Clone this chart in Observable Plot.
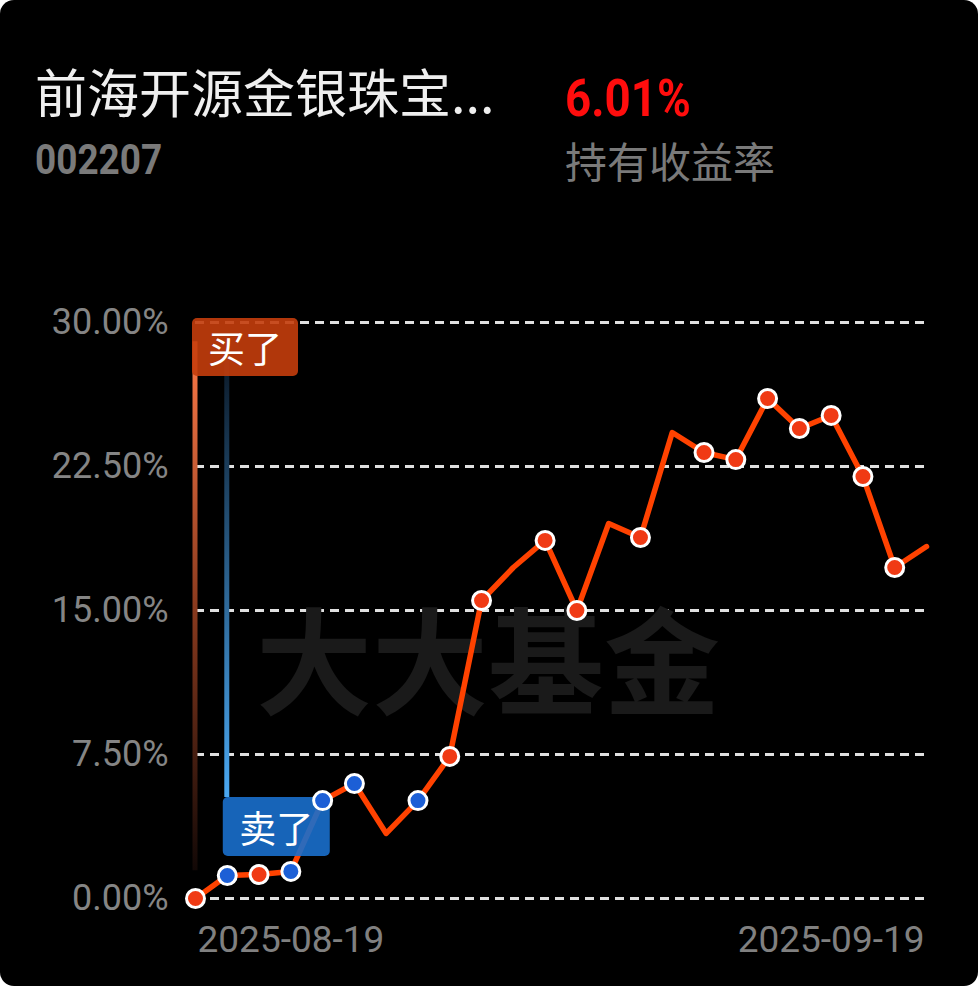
<!DOCTYPE html>
<html>
<head>
<meta charset="utf-8">
<script src="https://cdn.jsdelivr.net/npm/d3@7"></script>
<script src="https://cdn.jsdelivr.net/npm/@observablehq/plot@0.6"></script>
<style>
html,body{margin:0;padding:0;background:#ffffff;}
#card{position:relative;width:978px;height:986px;background:#000;border-radius:14px;overflow:hidden;}
.h{position:absolute;line-height:1;white-space:nowrap;}
#title{left:35px;top:65px;font-family:"Noto Sans CJK SC";font-size:52px;color:#efefef;}
#code{left:35px;top:139px;font-family:Roboto;font-weight:bold;font-size:42px;color:#7a7a7a;transform:scaleX(0.88);transform-origin:left top;}
#rate{left:565px;top:73px;font-family:Roboto;font-weight:bold;font-size:52px;color:#ff0d0d;transform:scaleX(0.88);transform-origin:left top;}
#rateLabel{left:565px;top:139px;font-family:"Noto Sans CJK SC";font-size:42px;color:#7a7a7a;}
#chart{position:absolute;left:0;top:280px;}
</style>
</head>
<body>
<div id="card">
  <div class="h" id="title"></div>
  <div class="h" id="code"></div>
  <div class="h" id="rate"></div>
  <div class="h" id="rateLabel"></div>
  <div id="chart"></div>
</div>
<script>
// ---- data ----
const fundName = "前海开源金银珠宝...";
const fundCode = "002207";
const holdingReturn = "6.01%";
const holdingReturnLabel = "持有收益率";

const dates = ["2025-08-19","2025-08-20","2025-08-21","2025-08-22","2025-08-25","2025-08-26","2025-08-27","2025-08-28","2025-08-29",
  "2025-09-01","2025-09-02","2025-09-03","2025-09-04","2025-09-05","2025-09-08","2025-09-09","2025-09-10","2025-09-11","2025-09-12",
  "2025-09-15","2025-09-16","2025-09-17","2025-09-18","2025-09-19"];
const returns = [0.00,1.20,1.25,1.41,5.10,5.99,3.39,5.10,7.40,15.52,17.24,18.65,15.00,19.53,18.80,24.27,23.23,22.86,26.04,24.48,25.16,21.98,17.24,18.33];
const trades = ["buy","sell","buy","sell","sell","sell",null,"sell","buy","buy",null,"buy","buy",null,"buy",null,"buy","buy","buy","buy","buy","buy","buy",null];
const yTicks = [0,7.5,15,22.5,30];
const xTickLabels = ["2025-08-19","2025-09-19"];
const watermark = "大大基金";
const markers = [
  {type:"buy", label:"买了", index:0, level:30, lineFrom:1.45, lineTo:29},
  {type:"sell", label:"卖了", index:1, level:5.26, lineFrom:5.26, lineTo:29.3}
];

document.getElementById("title").textContent = fundName;
document.getElementById("code").textContent = fundCode;
document.getElementById("rate").textContent = holdingReturn;
document.getElementById("rateLabel").textContent = holdingReturnLabel;

const data = dates.map((d,i)=>({i, date:d, value:returns[i], trade:trades[i]}));

function annotations(index, scales) {
  const x = scales.x, y = scales.y;
  const g = d3.create("svg:g");
  const defs = g.append("defs");
  markers.forEach((m, k) => {
    const px = x(m.index);
    const id = "grad" + k;
    const y1 = y(m.lineTo), y2 = y(m.lineFrom);
    const grad = defs.append("linearGradient").attr("id", id)
      .attr("gradientUnits","userSpaceOnUse")
      .attr("x1", px).attr("x2", px).attr("y1", y1).attr("y2", y2);
    if (m.type === "buy") {
      grad.append("stop").attr("offset","0").attr("stop-color","#ff7a48");
      grad.append("stop").attr("offset","0.5").attr("stop-color","#8a3a1e");
      grad.append("stop").attr("offset","1").attr("stop-color","#120806");
    } else {
      grad.append("stop").attr("offset","0").attr("stop-color","#08121e");
      grad.append("stop").attr("offset","1").attr("stop-color","#4aa8f2");
    }
    g.append("line").attr("x1",px).attr("x2",px).attr("y1",y1).attr("y2",y2)
      .attr("stroke",`url(#${id})`).attr("stroke-width",5);
  });
  markers.forEach((m) => {
    const px = x(m.index);
    const bx = m.type === "buy" ? px - 3 : px - 4;
    const by = m.type === "buy" ? y(m.level) - 4 : y(m.level);
    const bw = m.type === "buy" ? 106 : 107;
    const bh = m.type === "buy" ? 58 : 59;
    g.append("rect").attr("x",bx).attr("y",by).attr("width",bw).attr("height",bh).attr("rx",5)
      .attr("fill", m.type === "buy" ? "#c43d0c" : "#1a6fcc").attr("fill-opacity", 0.9);
    g.append("text").attr("x", bx + bw/2).attr("y", by + bh/2)
      .attr("text-anchor","middle").attr("dominant-baseline","central")
      .attr("fill","#ffffff").attr("font-size",37).attr("font-family","Noto Sans CJK SC")
      .text(m.label);
  });
  return g.node();
}

const plot = Plot.plot({
  width: 978, height: 706,
  marginLeft: 195, marginRight: 52, marginTop: 42, marginBottom: 88,
  x: {domain: [0, dates.length - 1], axis: null},
  y: {domain: [0, 30], axis: null},
  style: {background: "transparent", fontFamily: "Roboto", color: "#858585", overflow: "visible"},
  marks: [
    Plot.ruleY(yTicks, {stroke: "#e0e0e0", strokeWidth: 3, strokeDasharray: "9,6"}),
    Plot.axisY(yTicks, {tickSize: 0, tickPadding: 27, fontSize: 36, tickFormat: d => d.toFixed(2) + "%", label: null}),
    Plot.text([watermark], {frameAnchor: "middle", dx: -73, dy: 58, fontSize: 116, fontWeight: "bold", fill: "#1a1a1a", fontFamily: "Noto Sans CJK SC"}),
    Plot.line(data, {x: "i", y: "value", stroke: "#ff4200", strokeWidth: 5.5}),
    annotations,
    Plot.dot(data.filter(d => d.trade === "buy"), {x: "i", y: "value", r: 9, fill: "#f03a14", stroke: "#ffffff", strokeWidth: 3}),
    Plot.dot(data.filter(d => d.trade === "sell"), {x: "i", y: "value", r: 9, fill: "#1c5fd6", stroke: "#ffffff", strokeWidth: 3}),
    Plot.text([{i: 0, label: xTickLabels[0]}], {x: "i", text: "label", frameAnchor: "bottom", textAnchor: "start", dx: 2, dy: 53, fontSize: 37, fill: "#808080"}),
    Plot.text([{i: dates.length - 1, label: xTickLabels[1]}], {x: "i", text: "label", frameAnchor: "bottom", textAnchor: "end", dx: -2, dy: 53, fontSize: 37, fill: "#808080"})
  ]
});
document.getElementById("chart").appendChild(plot);
</script>
</body>
</html>
